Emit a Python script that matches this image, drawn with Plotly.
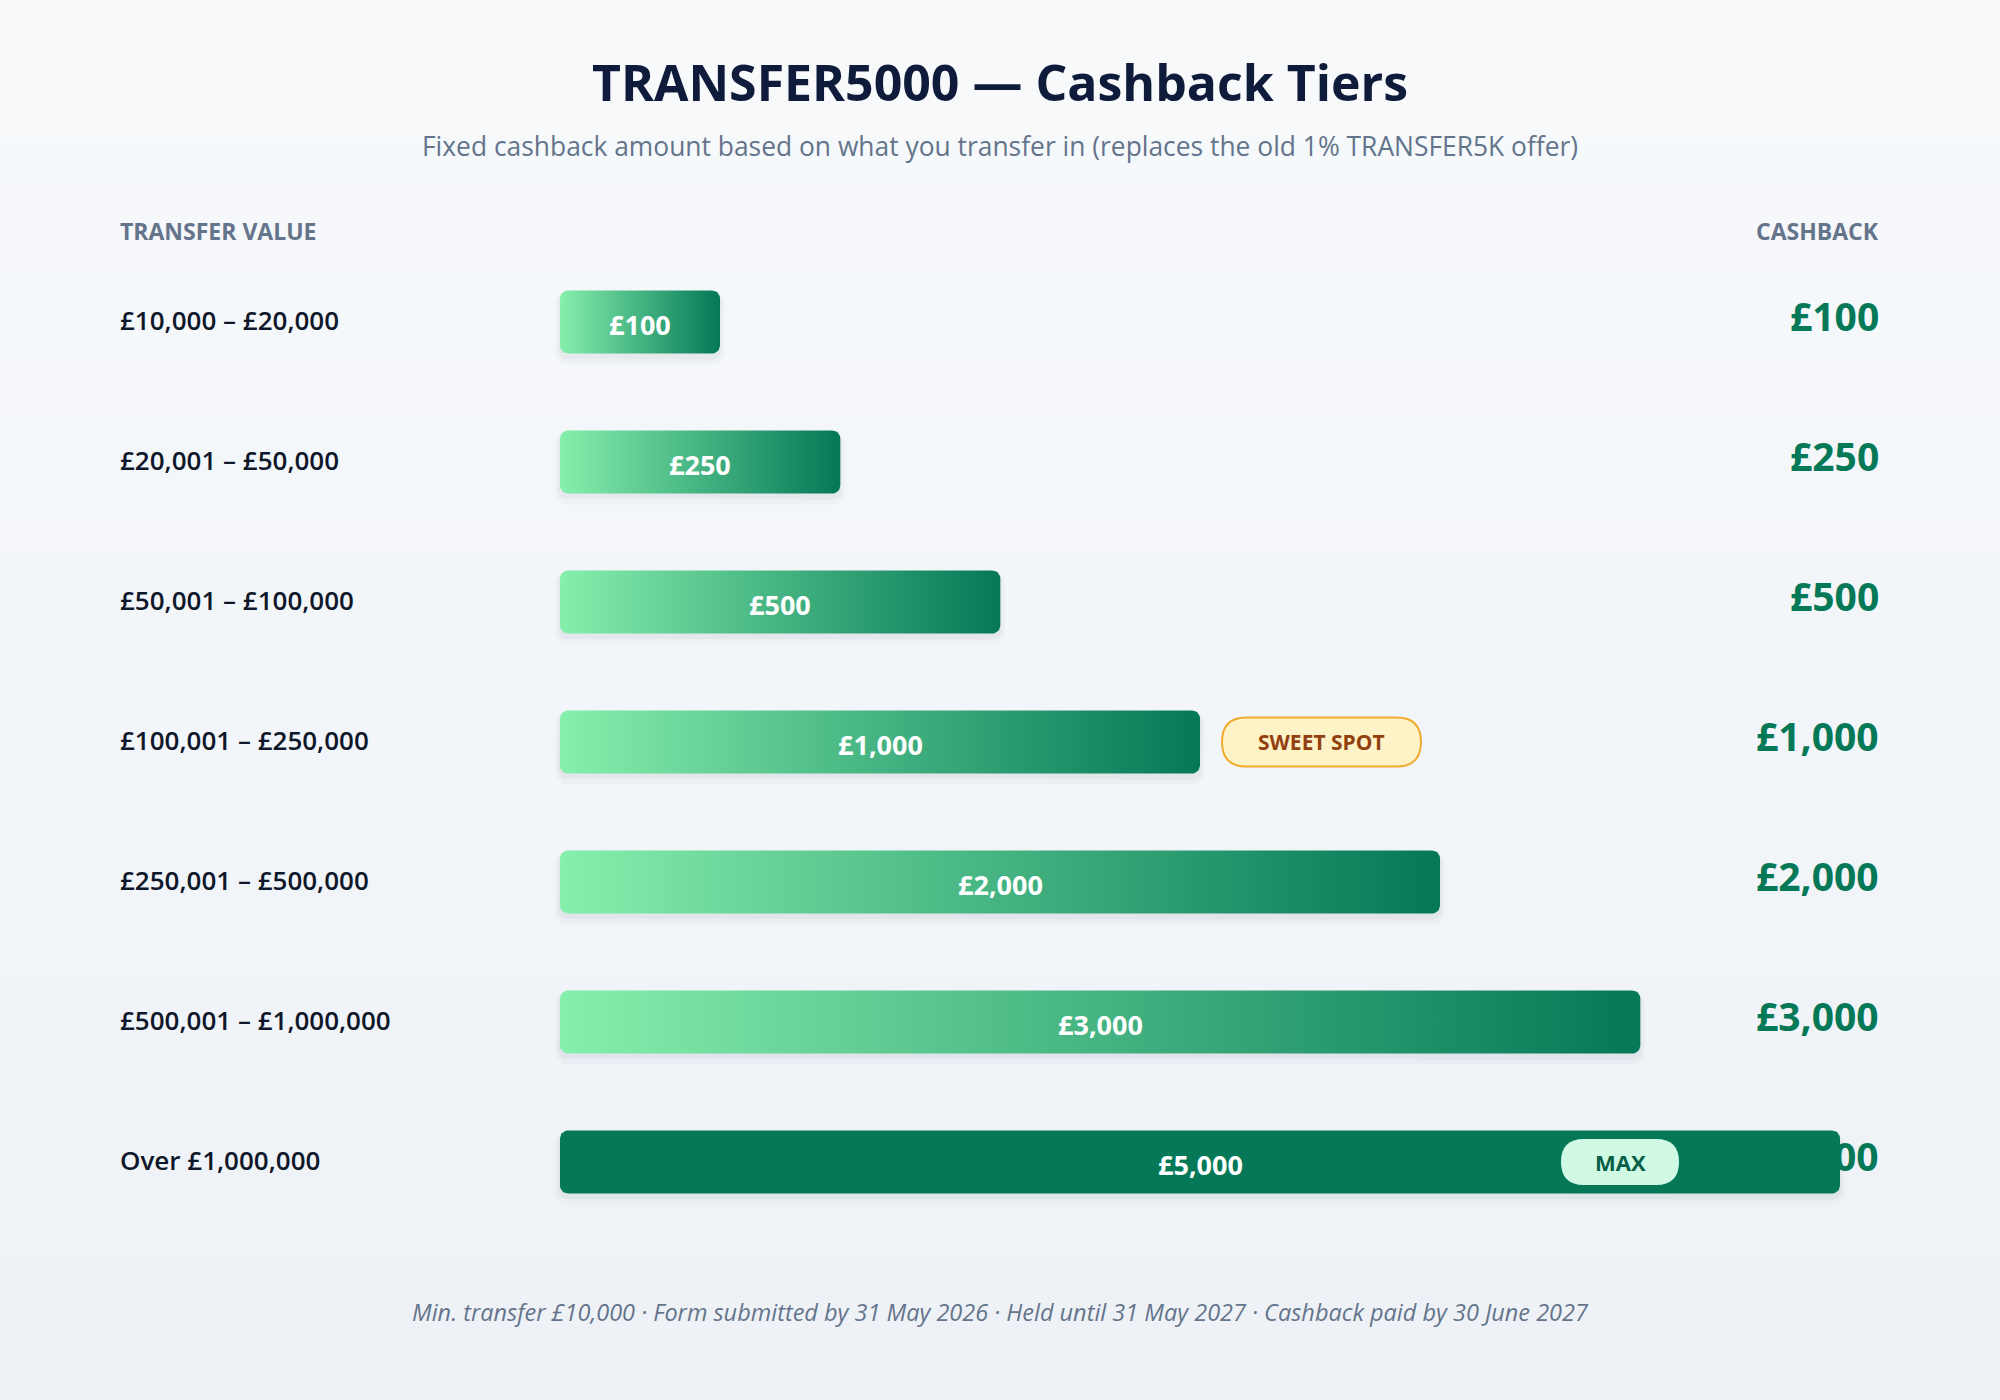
import numpy as np
import plotly.graph_objects as go

# ---------------- data ----------------
tiers = ["£10,000 – £20,000", "£20,001 – £50,000", "£50,001 – £100,000",
         "£100,001 – £250,000", "£250,001 – £500,000", "£500,001 – £1,000,000",
         "Over £1,000,000"]
cashback = [100, 250, 500, 1000, 2000, 3000, 5000]
# relative bar length as drawn in the reference (% of the longest bar)
bar_len = [12.5, 21.9, 34.4, 50.0, 68.75, 84.4, 100.0]
badges = {3: "SWEET SPOT", 6: "MAX"}

title = "TRANSFER5000 — Cashback Tiers"
subtitle = "Fixed cashback amount based on what you transfer in (replaces the old 1% TRANSFER5K offer)"
footer = ("Min. transfer £10,000 · Form submitted by 31 May 2026 · Held until 31 May 2027 · "
          "Cashback paid by 30 June 2027")

# ---------------- geometry / style ----------------
W, H = 2000, 1400
TRACK_X0, TRACK_X1 = 560, 1840          # pixel extent of a 100% bar
PX_X = (TRACK_X1 - TRACK_X0) / 100.0    # px per x unit
ROW0_PY, ROW_STEP = 322, 140            # px of first row centre, px per row
PX_Y = ROW_STEP
X_RANGE = [-TRACK_X0 / PX_X, (W - TRACK_X0) / PX_X]
Y_TOP = -ROW0_PY / PX_Y
Y_RANGE = [Y_TOP + H / PX_Y, Y_TOP]
BAR_H = 63
RADIUS = 8
FONT = "Open Sans"
GREEN_L, GREEN_D = "#86efac", "#047857"


def rounded(x0, x1, yc, h_px, r_px, n=10, dx_px=0.0, dy_px=0.0, grow_px=0.0):
    x0 = x0 - grow_px / PX_X + dx_px / PX_X
    x1 = x1 + grow_px / PX_X + dx_px / PX_X
    half = (h_px / 2 + grow_px) / PX_Y
    yc = yc + dy_px / PX_Y
    r_px = r_px + grow_px
    rx, ry = r_px / PX_X, r_px / PX_Y
    yt, yb = yc - half, yc + half
    xs, ys = [], []
    for cx, cy, a0 in [(x1 - rx, yt + ry, -90), (x1 - rx, yb - ry, 0),
                       (x0 + rx, yb - ry, 90), (x0 + rx, yt + ry, 180)]:
        t = np.radians(np.linspace(a0, a0 + 90, n))
        xs.extend(cx + rx * np.cos(t))
        ys.extend(cy + ry * np.sin(t))
    xs.append(xs[0]); ys.append(ys[0])
    return xs, ys


def rounded_path(x0, x1, yc, h_px, r_px):
    rx, ry = r_px / PX_X, r_px / PX_Y
    half = h_px / 2 / PX_Y
    yt, yb = yc - half, yc + half
    return (f"M {x0+rx},{yt} L {x1-rx},{yt} Q {x1},{yt} {x1},{yt+ry} "
            f"L {x1},{yb-ry} Q {x1},{yb} {x1-rx},{yb} L {x0+rx},{yb} "
            f"Q {x0},{yb} {x0},{yb-ry} L {x0},{yt+ry} Q {x0},{yt} {x0+rx},{yt} Z")


fig = go.Figure()

# background vertical gradient
shapes = []
top_c = np.array([248, 250, 252]); bot_c = np.array([238, 242, 247])
NB = 70
for i in range(NB):
    c = top_c + (bot_c - top_c) * (i / (NB - 1))
    shapes.append(dict(type="rect", xref="paper", yref="paper", layer="below",
                       x0=0, x1=1, y0=1 - (i + 1) / NB, y1=1 - i / NB + 0.001,
                       line=dict(width=0),
                       fillcolor=f"rgb({int(c[0])},{int(c[1])},{int(c[2])})"))

annotations = []

# bars
for i, (lab, val, ln) in enumerate(zip(tiers, cashback, bar_len)):
    # soft shadow
    for dy, grow, alpha in [(6, 5, 0.025), (4, 2, 0.04)]:
        sx, sy = rounded(0, ln, i, BAR_H, RADIUS, dy_px=dy, grow_px=grow)
        fig.add_trace(go.Scatter(x=sx, y=sy, mode="lines", fill="toself",
                                 fillcolor=f"rgba(15,23,42,{alpha})",
                                 line=dict(width=0), hoverinfo="skip", showlegend=False))
    bx, by = rounded(0, ln, i, BAR_H, RADIUS)
    if i == len(cashback) - 1:
        fig.add_trace(go.Scatter(x=bx, y=by, mode="lines", fill="toself",
                                 fillcolor=GREEN_D, line=dict(width=0),
                                 hoverinfo="skip", showlegend=False))
    else:
        fig.add_trace(go.Scatter(x=bx, y=by, mode="lines", fill="toself",
                                 fillgradient=dict(type="horizontal",
                                                   colorscale=[[0, GREEN_L], [1, GREEN_D]]),
                                 line=dict(width=0), hoverinfo="skip", showlegend=False))
    # row label
    annotations.append(dict(x=118 / W, xref="paper", y=i, yref="y", text=lab,
                            showarrow=False, xanchor="left", yanchor="middle", yshift=2,
                            font=dict(family=FONT, size=26, color="#0f172a", weight=600)))
    # value inside bar
    annotations.append(dict(x=ln / 2, y=i, xref="x", yref="y", text=f"£{val:,}",
                            showarrow=False, xanchor="center", yanchor="middle", yshift=-2,
                            font=dict(family=FONT, size=27, color="white", weight=700)))
    # right-hand cashback amount
    annotations.append(dict(x=1881 / W, xref="paper", y=i, yref="y", text=f"£{val:,}",
                            showarrow=False, xanchor="right", yanchor="middle", yshift=7,
                            font=dict(family=FONT, size=39, color=GREEN_D, weight=700)))

# badges
for i, txt in badges.items():
    ln = bar_len[i]
    if txt == "MAX":
        x1 = ln - 161 / PX_X
        x0 = x1 - 118 / PX_X
        h = 46
        fill, border, tcol = "#d1fae5", "#d1fae5", "#065f46"
        bw = 0
        fs = 22
    else:
        x0 = ln + 22 / PX_X
        x1 = x0 + 199 / PX_X
        h = 49
        fill, border, tcol = "#fef3c7", "#f0ab2e", "#92400e"
        bw = 2
        fs = 21
    shapes.append(dict(type="path", xref="x", yref="y", layer="above",
                       path=rounded_path(x0, x1, i, h, h / 2),
                       fillcolor=fill, line=dict(color=border, width=bw)))
    annotations.append(dict(x=(x0 + x1) / 2, y=i, xref="x", yref="y", text=txt,
                            showarrow=False, xanchor="center", yanchor="middle",
                            font=dict(family=FONT, size=fs, color=tcol, weight=700)))

# headings & footer
annotations += [
    dict(x=0.5, y=1 - 82 / H, xref="paper", yref="paper", text=title, showarrow=False,
         xanchor="center", yanchor="middle",
         font=dict(family=FONT, size=50, color="#0f1b3a", weight=700)),
    dict(x=0.5, y=1 - 146 / H, xref="paper", yref="paper", text=subtitle, showarrow=False,
         xanchor="center", yanchor="middle",
         font=dict(family=FONT, size=26.4, color="#64748b")),
    dict(x=118 / W, y=1 - 231 / H, xref="paper", yref="paper", text="TRANSFER VALUE",
         showarrow=False, xanchor="left", yanchor="middle",
         font=dict(family=FONT, size=23, color="#64748b", weight=700)),
    dict(x=1881 / W, y=1 - 231 / H, xref="paper", yref="paper", text="CASHBACK",
         showarrow=False, xanchor="right", yanchor="middle",
         font=dict(family=FONT, size=23, color="#64748b", weight=700)),
    dict(x=0.5, y=1 - 1312 / H, xref="paper", yref="paper", text=footer, showarrow=False,
         xanchor="center", yanchor="middle",
         font=dict(family=FONT, size=23.5, color="#64748b", style="italic")),
]

fig.update_layout(
    width=W, height=H, autosize=False,
    margin=dict(l=0, r=0, t=0, b=0),
    paper_bgcolor="#f3f6f9", plot_bgcolor="rgba(0,0,0,0)",
    shapes=shapes, annotations=annotations, showlegend=False,
    xaxis=dict(range=X_RANGE, visible=False, fixedrange=True),
    yaxis=dict(range=Y_RANGE, visible=False, fixedrange=True),
)

fig.write_html("out.html", config={"displayModeBar": False},
               post_script="document.body.style.margin='0';document.body.style.overflow='hidden';")
